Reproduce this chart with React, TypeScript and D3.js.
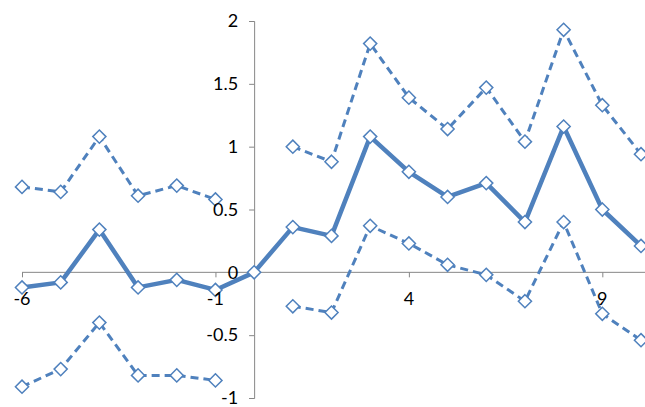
import React, { useRef, useEffect } from 'react';
import * as d3 from 'd3';

const xs = [-6, -5, -4, -3, -2, -1, 0, 1, 2, 3, 4, 5, 6, 7, 8, 9, 10];
const middle = [-0.12, -0.08, 0.34, -0.12, -0.06, -0.14, 0, 0.36, 0.29, 1.08, 0.8, 0.6, 0.71, 0.4, 1.16, 0.5, 0.21];
const upper = [0.68, 0.64, 1.08, 0.61, 0.69, 0.58, null, 1.0, 0.88, 1.82, 1.39, 1.14, 1.47, 1.04, 1.93, 1.33, 0.94];
const lower = [-0.91, -0.77, -0.4, -0.82, -0.82, -0.86, null, -0.27, -0.32, 0.37, 0.23, 0.06, -0.02, -0.23, 0.4, -0.33, -0.54];
const yTicks = [-1, -0.5, 0, 0.5, 1, 1.5, 2];
const xTicks = [-6, -1, 4, 9];

const W = 645;
const H = 407;
const color = '#4F81BD';

const App: React.FC = () => {
    const svgRef = useRef<SVGSVGElement | null>(null);

    useEffect(() => {
        const svg = d3.select(svgRef.current);
        svg.selectAll('*').remove();

        const x = d3.scaleLinear().domain([-6, 10]).range([22, 641]);
        const y = d3.scaleLinear().domain([-1, 2]).range([398, 21]);

        const series = [
            { values: upper, width: 3, dash: '8 5' },
            { values: lower, width: 3, dash: '8 5' },
            { values: middle, width: 4.5, dash: null },
        ];

        // axis lines first, labels drawn last so they sit over the markers
        const yAxis = svg.append('g')
            .attr('transform', `translate(${x(0)},0)`)
            .call(d3.axisLeft(y).tickValues(yTicks).tickSize(5).tickFormat((d) => String(d)));
        yAxis.select('.domain').attr('stroke', '#868686');
        yAxis.selectAll('.tick line').attr('stroke', '#868686');
        yAxis.selectAll('text').remove();

        const xAxis = svg.append('g')
            .attr('transform', `translate(0,${y(0)})`)
            .call(d3.axisBottom(x).tickValues(xTicks).tickSize(5).tickSizeOuter(0));
        xAxis.select('.domain').attr('stroke', '#868686').attr('d', `M${x(-6)},0H${W}`);
        xAxis.selectAll('.tick line').attr('stroke', '#868686');
        xAxis.selectAll('text').remove();

        series.forEach((s) => {
            const pts = xs.map((v, i) => ({ x: v, y: s.values[i] as number | null }));
            const line = d3.line<{ x: number; y: number | null }>()
                .defined((d) => d.y !== null)
                .x((d) => x(d.x))
                .y((d) => y(d.y as number));
            svg.append('path')
                .datum(pts)
                .attr('d', line)
                .attr('fill', 'none')
                .attr('stroke', color)
                .attr('stroke-width', s.width)
                .attr('stroke-dasharray', s.dash)
                .attr('stroke-linejoin', 'round');
            svg.append('g')
                .selectAll('path')
                .data(pts.filter((d) => d.y !== null))
                .enter()
                .append('path')
                .attr('d', d3.symbol(d3.symbolDiamond2, 110))
                .attr('transform', (d) => `translate(${x(d.x)},${y(d.y as number)})`)
                .attr('fill', 'white')
                .attr('stroke', color)
                .attr('stroke-width', 1.5);
        });

        const font = 'Lato, sans-serif';
        svg.append('g')
            .selectAll('text')
            .data(yTicks)
            .enter()
            .append('text')
            .attr('x', x(0) - 16)
            .attr('y', (d) => y(d))
            .attr('dy', '0.35em')
            .attr('text-anchor', 'end')
            .attr('font-size', 18)
            .attr('font-family', font)
            .text((d) => String(d));

        svg.append('g')
            .selectAll('text')
            .data(xTicks)
            .enter()
            .append('text')
            .attr('x', (d) => x(d))
            .attr('y', y(0) + 33)
            .attr('text-anchor', 'middle')
            .attr('font-size', 18)
            .attr('font-family', font)
            .text((d) => String(d));
    }, []);

    return (
        <svg
            ref={svgRef}
            width={W}
            height={H}
            style={{ position: 'absolute', left: 0, top: 0, background: 'white' }}
        ></svg>
    );
};

export default App;
